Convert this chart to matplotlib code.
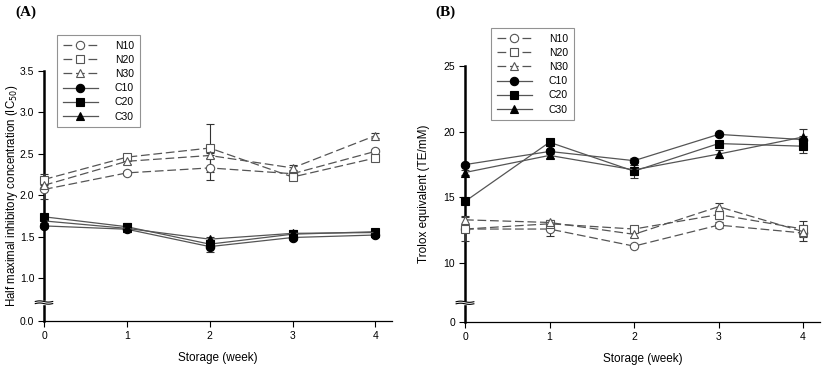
import numpy as np
import matplotlib
matplotlib.use("Agg")
import matplotlib.pyplot as plt
import matplotlib.transforms as mtrans
from matplotlib.ticker import FixedLocator, FixedFormatter

plt.rcParams['font.family'] = ['Liberation Sans', 'DejaVu Sans']

weeks = [0, 1, 2, 3, 4]
labels = ["N10", "N20", "N30", "C10", "C20", "C30"]

# (A) IC50
ic50 = {
    "N10": [2.07, 2.27, 2.33, 2.26, 2.53],
    "N20": [2.19, 2.46, 2.57, 2.22, 2.45],
    "N30": [2.12, 2.41, 2.48, 2.33, 2.72],
    "C10": [1.63, 1.59, 1.38, 1.49, 1.52],
    "C20": [1.74, 1.62, 1.41, 1.53, 1.56],
    "C30": [1.69, 1.60, 1.47, 1.54, 1.55],
}
ic50_err = {
    "N10": [0.12, 0.02, 0.15, 0.03, 0.03],
    "N20": [0.07, 0.03, 0.29, 0.03, 0.03],
    "N30": [0.05, 0.03, 0.03, 0.03, 0.03],
    "C10": [0.03, 0.03, 0.07, 0.03, 0.02],
    "C20": [0.03, 0.04, 0.05, 0.03, 0.02],
    "C30": [0.03, 0.03, 0.03, 0.04, 0.02],
}

# (B) Trolox equivalent
te = {
    "N10": [12.6, 12.6, 11.3, 12.9, 12.3],
    "N20": [12.6, 13.0, 12.6, 13.7, 12.6],
    "N30": [13.3, 13.1, 12.2, 14.3, 12.4],
    "C10": [17.5, 18.5, 17.8, 19.8, 19.4],
    "C20": [14.7, 19.2, 17.0, 19.1, 18.9],
    "C30": [16.9, 18.2, 17.1, 18.3, 19.6],
}
te_err = {
    "N10": [0.9, 0.5, 0.1, 0.2, 0.6],
    "N20": [0.2, 0.2, 0.2, 0.3, 0.6],
    "N30": [0.3, 0.2, 0.2, 0.3, 0.3],
    "C10": [0.1, 0.2, 0.2, 0.1, 0.3],
    "C20": [0.2, 0.2, 0.5, 0.2, 0.5],
    "C30": [0.2, 0.2, 0.4, 0.3, 0.6],
}

yticks_a = [0, 1.0, 1.5, 2.0, 2.5, 3.0, 3.5]
yticks_b = [0, 10, 15, 20, 25]

markers = {"N10": "o", "N20": "s", "N30": "^", "C10": "o", "C20": "s", "C30": "^"}


def broken_scale(cut, frac):
    def fwd(y):
        y = np.asarray(y, dtype=float)
        return np.where(y >= cut, y, cut - (cut - y) * frac)

    def inv(t):
        t = np.asarray(t, dtype=float)
        return np.where(t >= cut, t, cut - (cut - t) / frac)
    return fwd, inv


def draw(ax, data, err, cut, frac, yticks, ylabels, ylim, brk):
    ax.set_yscale('function', functions=broken_scale(cut, frac))
    handles = []
    for name in labels:
        dashed = name.startswith("N")
        c = ax.errorbar(weeks, data[name], yerr=err[name],
                        color='#555555', lw=0.9,
                        ls=(0, (7, 3)) if dashed else '-',
                        marker=markers[name], ms=6 if markers[name] != 's' else 5.5,
                        mfc='white' if dashed else 'black',
                        mec='#555555' if dashed else 'black', mew=0.8,
                        ecolor='#333333', elinewidth=0.8, capsize=3, capthick=0.8,
                        label=name, clip_on=False, zorder=3)
        handles.append(c[0])
    ax.set_xlim(0, 4.2)
    ax.set_ylim(*ylim)
    ax.yaxis.set_major_locator(FixedLocator(yticks))
    ax.yaxis.set_major_formatter(FixedFormatter(ylabels))
    ax.yaxis.set_minor_locator(FixedLocator([]))
    ax.set_xticks(weeks)
    for s in ['top', 'right']:
        ax.spines[s].set_visible(False)
    ax.spines['left'].set_linewidth(1.8)
    ax.spines['bottom'].set_linewidth(0.9)
    ax.tick_params(direction='out', length=4, width=0.8, labelsize=7.5, pad=3)
    ax.set_xlabel("Storage (week)", fontsize=8.5, labelpad=8)

    # axis break mark on the left spine
    tr = mtrans.blended_transform_factory(ax.transAxes, ax.transData)
    xs = np.linspace(-0.025, 0.025, 30)
    wig = np.sin((xs + 0.025) / 0.05 * 2 * np.pi)
    span = (ylim[1] - ylim[0])
    ax.fill_between([-0.01, 0.01], brk - 0.004 * span, brk + 0.010 * span,
                    color='white', transform=tr, clip_on=False, zorder=5)
    for off in (-0.004 * span, 0.010 * span):
        ax.plot(xs, brk + off + wig * 0.004 * span, color='black', lw=0.8,
                transform=tr, clip_on=False, zorder=6)
    return handles


fig = plt.figure(figsize=(8.27, 3.69), dpi=100)
axA = fig.add_axes([44 / 827, 48 / 369, (392 - 44) / 827, (321 - 71) / 369])
axB = fig.add_axes([465 / 827, 47 / 369, (820 - 465) / 827, (322 - 66) / 369])

hA = draw(axA, ic50, ic50_err, 1.0, 0.518, yticks_a,
          ["0.0", "1.0", "1.5", "2.0", "2.5", "3.0", "3.5"], (0, 3.5), 0.42)
hB = draw(axB, te, te_err, 10.0, 0.447, yticks_b,
          ["0", "10", "15", "20", "25"], (0, 25), 3.2)

axA.set_ylabel("Half maximal inhibitory concentration (IC$_{50}$)", fontsize=8.3)
axA.yaxis.set_label_coords(-0.07, 0.5)
axB.set_ylabel("Trolox equivalent (TE/mM)", fontsize=8.5, labelpad=10)

for ax, hs, x0, y0 in [(axA, hA, 57, 35), (axB, hB, 491, 28)]:
    leg = ax.legend(hs, labels, loc='upper left',
                    bbox_to_anchor=(x0 / 827, 1 - y0 / 369),
                    bbox_transform=fig.transFigure, fontsize=7.5, frameon=True,
                    fancybox=False, edgecolor='#777777', handlelength=3.4,
                    handletextpad=1.6, borderpad=0.55, labelspacing=0.4,
                    borderaxespad=0)
    leg.get_frame().set_linewidth(0.8)

fig.text(15 / 827, 1 - 12 / 369, "(A)", fontsize=11, fontweight='bold',
         family='Liberation Serif', va='center')
fig.text(435 / 827, 1 - 12 / 369, "(B)", fontsize=11, fontweight='bold',
         family='Liberation Serif', va='center')

fig.savefig("out.png", dpi=100)
